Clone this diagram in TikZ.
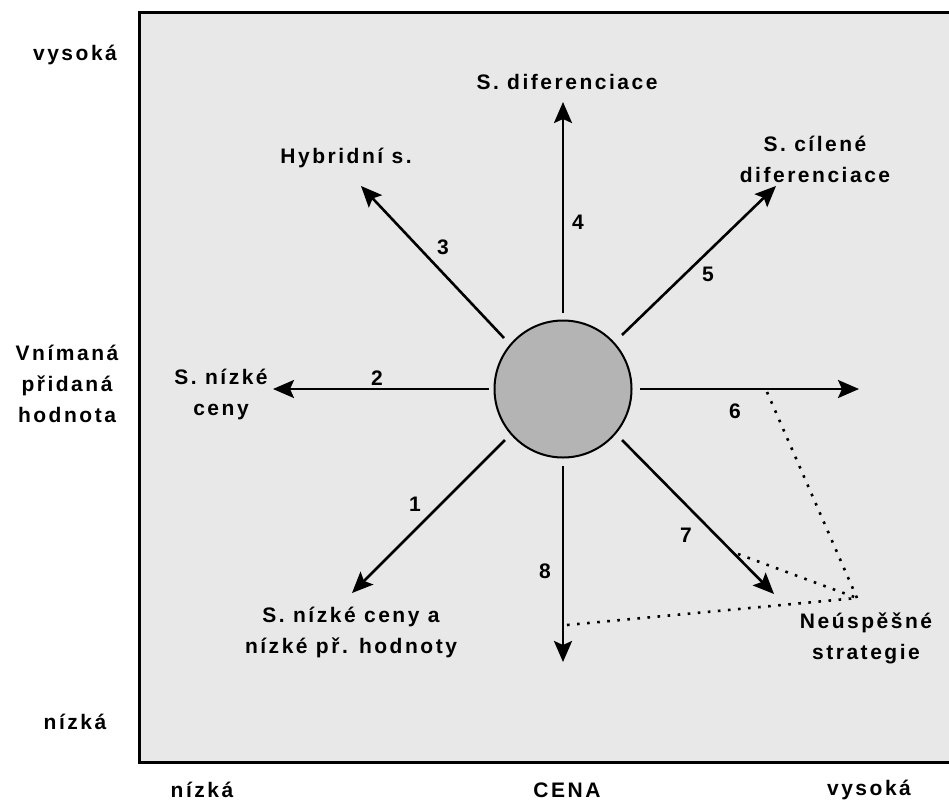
\documentclass[tikz,border=0pt]{standalone}
\usepackage{fontspec}
\setmainfont{Liberation Sans}[LetterSpace=12]
\usetikzlibrary{arrows.meta}
\definecolor{bg}{RGB}{232,232,232}
\definecolor{disk}{RGB}{180,180,180}
\begin{document}
\begin{tikzpicture}[x=1pt,y=-1pt,
  txt/.style={font=\fontsize{21}{31}\selectfont\bfseries, align=center, inner sep=0pt},
  arr/.style={line width=2.6pt, -{Stealth[length=21pt,width=18pt,inset=4pt]}},
  dots/.style={line width=2.6pt, dash pattern=on 2.6pt off 7.5pt}]
\clip (0,0) rectangle (949,809);
\draw[fill=bg, line width=3pt] (139,12) rectangle (960,762);
\node[circle, draw, line width=2pt, fill=disk, minimum size=137pt, inner sep=0pt] (c) at (563,389) {};
% arrow start and tip coordinates
\coordinate (s4) at (563,313); \coordinate (t4) at (563,102);
\coordinate (s8) at (563,466); \coordinate (t8) at (563,662);
\coordinate (s6) at (640,389); \coordinate (t6) at (859,389);
\coordinate (s2) at (489,389); \coordinate (t2) at (273,389);
\coordinate (s3) at (504,338); \coordinate (t3) at (361,186);
\coordinate (s5) at (622,335); \coordinate (t5) at (776,186);
\coordinate (s1) at (505,440); \coordinate (t1) at (352,593);
\coordinate (s7) at (622,440); \coordinate (t7) at (774,594);
\foreach \i in {1,...,8} {\draw[arr] (s\i) -- (t\i);}
% failure point
\coordinate (f) at (857,598);
\coordinate (d6) at (767,392);
\coordinate (d7) at (738,554);
\coordinate (d8) at (567,625);
\draw[dots] (d6) -- (f);
\draw[dots] (d7) -- (f);
\draw[dots] (d8) -- (f);
% labels
\node[txt] (l4) at (567,82) {S. diferenciace};
\node[txt] (l3) at (346,158) {Hybridní s.};
\node[txt] (l5) at (815,159) {S. cílené\\diferenciace};
\node[txt] (l2) at (221,394) {S. nízké\\ceny};
\node[txt] (l1) at (351,632) {S. nízké ceny a\\nízké př. hodnoty};
\node[txt] (lf) at (866,638) {Neúspěšné\\strategie};
% numbers
\node[txt] (n4) at (578,222) {4};
\node[txt] (n3) at (443,247) {3};
\node[txt] (n5) at (708,274) {5};
\node[txt] (n2) at (377,378) {2};
\node[txt] (n6) at (735,411) {6};
\node[txt] (n1) at (415,504) {1};
\node[txt] (n7) at (686,535) {7};
\node[txt] (n8) at (545,571) {8};
% axes
\node[txt] (yh) at (75,55) {vysoká};
\node[txt] (ym) at (67,384) {Vnímaná\\přidaná\\hodnota};
\node[txt] (yl) at (75,722) {nízká};
\node[txt] (xl) at (202,790) {nízká};
\node[txt] (xm) at (567,790) {CENA};
\node[txt] (xh) at (869,790) {vysoká};
\end{tikzpicture}
\end{document}
